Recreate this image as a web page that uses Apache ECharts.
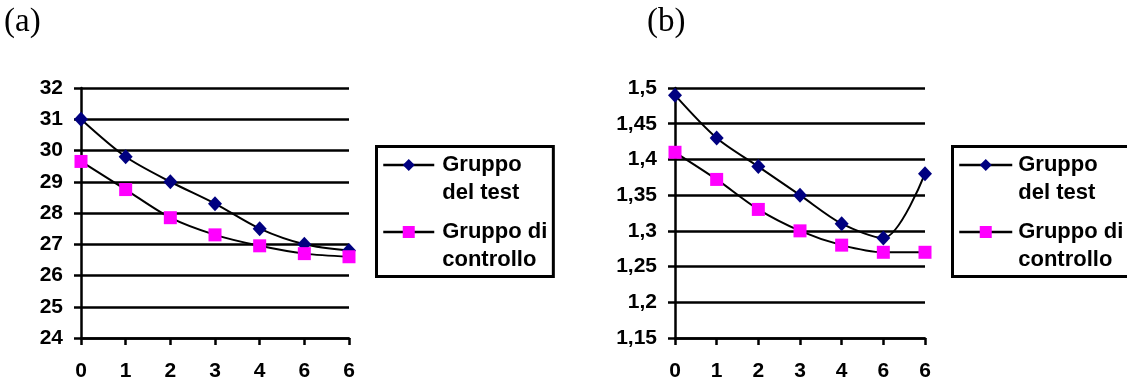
<!DOCTYPE html>
<html><head><meta charset="utf-8">
<script src="https://cdn.jsdelivr.net/npm/echarts@6/dist/echarts.min.js"></script>
<style>html,body{margin:0;padding:0;background:#fff}#c{width:1127px;height:385px}</style>
</head><body><div id="c"></div>
<script>
const categories = ['0', '1', '2', '3', '4', '6', '6'];
const testA = [31.0, 29.8, 29.0, 28.3, 27.5, 27.0, 26.8];
const controlA = [29.65, 28.75, 27.85, 27.3, 26.95, 26.7, 26.6];
const testB = [1.49, 1.43, 1.39, 1.35, 1.31, 1.29, 1.38];
const controlB = [1.41, 1.372, 1.33, 1.30, 1.28, 1.27, 1.27];
const yTicksA = ['24', '25', '26', '27', '28', '29', '30', '31', '32'];
const yTicksB = ['1,15', '1,2', '1,25', '1,3', '1,35', '1,4', '1,45', '1,5'];
const seriesNames = ['Gruppo\ndel test', 'Gruppo di\ncontrollo'];
const panelLabels = ['(a)', '(b)'];

const FONT = 'Liberation Sans';
const LW = 2.5;

function xAxis(idx) {
  return {
    gridIndex: idx, type: 'category', boundaryGap: false, data: categories,
    axisLine: { lineStyle: { color: '#000', width: LW } },
    axisTick: { show: true, length: 7, lineStyle: { color: '#000', width: LW } },
    axisLabel: { color: '#000', fontFamily: FONT, fontWeight: 'bold', fontSize: 21, margin: 23, interval: 0 },
    splitLine: { show: false }
  };
}
function yAxis(idx, min, max, step, ticks) {
  return {
    gridIndex: idx, type: 'value', min: min, max: max, interval: step,
    axisLine: { show: true, lineStyle: { color: '#000', width: LW } },
    axisTick: { show: true, length: 7, lineStyle: { color: '#000', width: LW } },
    axisLabel: {
      color: '#000', fontFamily: FONT, fontWeight: 'bold', fontSize: 21, margin: 18,
      formatter: function (v) { return ticks[Math.round((v - min) / step)]; }
    },
    splitLine: { show: true, lineStyle: { color: '#000', width: LW } }
  };
}
function legend(left, itemWidth, textPadLeft) {
  return {
    orient: 'vertical', left: left, top: 146.5, padding: [-23.5, 6, 2.5, 5.5],
    borderColor: '#000', borderWidth: 3, itemWidth: itemWidth, itemHeight: 15, itemGap: -17,
    selectedMode: false, data: seriesNames,
    lineStyle: { width: 2.5 },
    formatter: function (name) {
      return name.split('\n').map(function (s) { return '{t|' + s + '}'; }).join('\n');
    },
    textStyle: {
      color: '#000', fontFamily: FONT, fontWeight: 'bold', fontSize: 22, lineHeight: 28,
      padding: [28, 0, 0, textPadLeft],
      rich: { t: { color: '#000', fontFamily: FONT, fontWeight: 'bold', fontSize: 22, lineHeight: 28 } }
    }
  };
}
function series(name, data, idx, isTest) {
  return {
    name: name, type: 'line', xAxisIndex: idx, yAxisIndex: idx, data: data,
    smooth: 0.3,
    symbol: isTest ? 'diamond' : 'rect',
    symbolSize: isTest ? [14, 15] : 13,
    itemStyle: { color: isTest ? '#000080' : '#FF00FF' },
    lineStyle: { color: '#000', width: 2 }
  };
}

const chart = echarts.init(document.getElementById('c'), null, { renderer: 'canvas' });
chart.setOption({
  backgroundColor: '#fff',
  animation: false,
  title: [
    { text: panelLabels[0], left: 4, top: 6, padding: 0, textStyle: { fontFamily: 'Liberation Serif', fontWeight: 'normal', fontSize: 33, color: '#000' } },
    { text: panelLabels[1], left: 647, top: 6, padding: 0, textStyle: { fontFamily: 'Liberation Serif', fontWeight: 'normal', fontSize: 33, color: '#000' } }
  ],
  grid: [
    { left: 81, top: 88, width: 268, height: 250, containLabel: false },
    { left: 675, top: 88, width: 250, height: 250, containLabel: false }
  ],
  xAxis: [xAxis(0), xAxis(1)],
  yAxis: [yAxis(0, 24, 32, 1, yTicksA), yAxis(1, 1.15, 1.5, 0.05, yTicksB)],
  legend: [legend(376.5, 51, 3), legend(952.5, 53, 1)],
  series: [
    series(seriesNames[0], testA, 0, true),
    series(seriesNames[1], controlA, 0, false),
    series(seriesNames[0], testB, 1, true),
    series(seriesNames[1], controlB, 1, false)
  ]
});
</script></body></html>
